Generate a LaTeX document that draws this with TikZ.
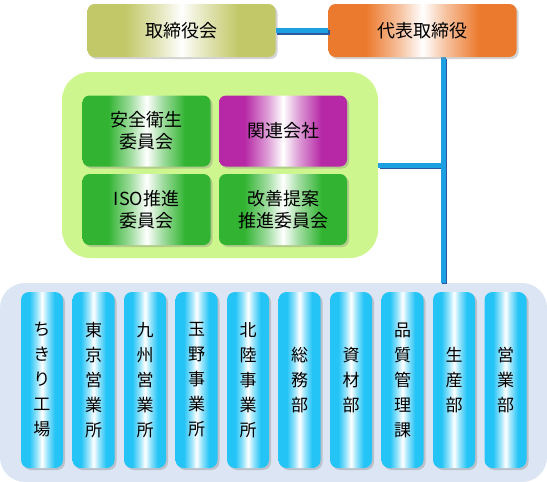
\documentclass[tikz,border=0pt]{standalone}
\usepackage{fontspec}
\newfontfamily\jpfont{Noto Sans CJK JP}
\usetikzlibrary{positioning,shadows}
\definecolor{boardOlive}{RGB}{194,200,104}
\definecolor{ceoOrange}{RGB}{236,122,46}
\definecolor{cmteGreen}{RGB}{50,180,50}
\definecolor{groupPurple}{RGB}{182,40,166}
\definecolor{deptCyan}{RGB}{36,196,246}
\definecolor{panelGreen}{RGB}{206,246,142}
\definecolor{panelBlue}{RGB}{220,229,243}
\definecolor{linkBlue}{RGB}{28,160,226}
\definecolor{linkDark}{RGB}{44,86,160}
\colorlet{tint}{deptCyan}
% path spans 25bp..75bp of the shading
\pgfdeclarehorizontalshading[tint]{centerglow}{100bp}{color(0bp)=(tint); color(35bp)=(tint);
	color(44bp)=(tint!45!white); color(50bp)=(white); color(56bp)=(tint!45!white);
	color(65bp)=(tint); color(100bp)=(tint)}

\begin{document}
\begin{tikzpicture}[x=1pt, y=-1pt,
		shade box/.style={rounded corners=7pt, align=center, inner sep=0pt,
			/utils/exec={\colorlet{tint}{#1}}, shading=centerglow,
			drop shadow={shadow xshift=2pt, shadow yshift=-2pt, opacity=0.35}},
		topbox/.style={shade box=#1, minimum width=188pt, minimum height=53pt,
			font=\jpfont\fontsize{18}{22}\selectfont},
		cmtebox/.style={shade box=#1, minimum width=128pt, minimum height=71pt,
			font=\jpfont\fontsize{18}{22}\selectfont},
		deptbar/.style={shade box=deptCyan, rounded corners=8pt, minimum width=42pt,
			minimum height=176pt, font=\jpfont\fontsize{17}{25}\selectfont},
		panel/.style={fill=#1, inner sep=0pt},
		link/.style={draw=linkBlue, line width=5pt,
			preaction={draw=linkDark, line width=5pt, transform canvas={shift={(1.5pt,-1.5pt)}}}}]
	\useasboundingbox (0,0) rectangle (547,482);

	% panels
	\node[panel=panelGreen, rounded corners=28pt, minimum width=316pt, minimum height=186pt]
		(committees) at (220,165) {};
	\node[panel=panelBlue, rounded corners=25pt, minimum width=547pt, minimum height=199pt]
		(depts) at (273.5,382.5) {};

	% top
	\node[topbox=boardOlive] (board) at (181.5,30.5) {取締役会};
	\coordinate (trunk) at (443,0);
	\draw[link] (committees.east) -- (committees.east -| trunk);
	\draw[link] (422.5,57 -| trunk) -- (depts.north -| trunk);
	\node[topbox=ceoOrange] (ceo) at (422.5,30.5) {代表取締役};
	\draw[link] (board.east) -- (ceo.west);

	% committees
	\node[cmtebox=cmteGreen] (safety) at (146.5,131) {安全衛生\\委員会};
	\node[cmtebox=groupPurple] (affiliates) at (283,131) {関連会社};
	\node[cmtebox=cmteGreen] (iso) at (146.5,209.5) {ISO推進\\委員会};
	\node[cmtebox=cmteGreen] (kaizen) at (283,209.5) {改善提案\\推進委員会};

	% departments
	\foreach \dname [count=\i] in {{ち\\き\\り\\工\\場},{東\\京\\営\\業\\所},{九\\州\\営\\業\\所},
			{玉\\野\\事\\業\\所},{北\\陸\\事\\業\\所},{総\\務\\部},{資\\材\\部},
			{品\\質\\管\\理\\課},{生\\産\\部},{営\\業\\部}}
		\node[deptbar] (dept\i) at ({42+(\i-1)*51.5},380) {\dname};
\end{tikzpicture}
\end{document}
